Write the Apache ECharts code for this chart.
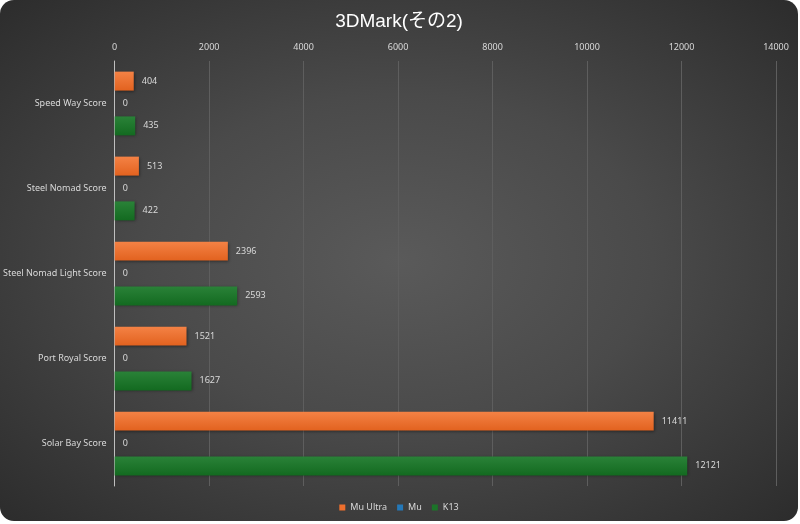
<!DOCTYPE html>
<html>
<head>
<meta charset="utf-8">
<script src="https://cdn.jsdelivr.net/npm/echarts@6/dist/echarts.min.js"></script>
<style>
html,body{margin:0;padding:0;background:#ffffff;}
#card{position:absolute;left:0;top:0;width:798px;height:521px;border-radius:14px;overflow:hidden;
background:radial-gradient(ellipse at 50% 50%, #5a5a5a 0%, #4a4a4a 45%, #2c2c2c 100%);}
#main{width:798px;height:521px;}
</style>
</head>
<body>
<div id="card"><div id="main"></div></div>
<script>
const title = '3DMark(その2)';
const categories = ['Speed Way Score','Steel Nomad Score','Steel Nomad Light Score','Port Royal Score','Solar Bay Score'];
const seriesNames = ['Mu Ultra','Mu','K13'];
const muUltra = [404, 513, 2396, 1521, 11411];
const mu = [0, 0, 0, 0, 0];
const k13 = [435, 422, 2593, 1627, 12121];
const axisMin = 0, axisMax = 14000, axisStep = 2000;

function grad(top, bottom){
  return new echarts.graphic.LinearGradient(0,0,0,1,[{offset:0,color:top},{offset:1,color:bottom}]);
}
const colors = [
  {fill: grad('#f48245','#e2621f'), legend:'#ee6f2d'},
  {fill: grad('#2f86c6','#1c6aa6'), legend:'#2478b8'},
  {fill: grad('#2a8238','#136a20'), legend:'#1c7429'}
];
const datas = [muUltra, mu, k13];

const chart = echarts.init(document.getElementById('main'), null, {renderer:'canvas'});
chart.setOption({
  backgroundColor:'transparent',
  animation:false,
  title:{text:title,left:'center',top:7,textStyle:{color:'#ffffff',fontSize:19,fontWeight:'normal',fontFamily:'Liberation Sans, Noto Sans CJK JP'}},
  legend:{bottom:4,left:'center',itemWidth:6,itemHeight:6,itemGap:10,icon:'rect',
    textStyle:{color:'#d9d9d9',fontSize:9,fontFamily:'Noto Sans'},
    data:seriesNames.map((n,i)=>({name:n,itemStyle:{color:colors[i].legend}}))},
  grid:{left:111,right:22,top:61,bottom:35,containLabel:false},
  xAxis:{type:'value',position:'top',min:axisMin,max:axisMax,interval:axisStep,
    axisLine:{show:false},axisTick:{show:false},
    axisLabel:{color:'#d9d9d9',fontSize:9,margin:9,fontFamily:'Noto Sans',formatter:v=>String(v)},
    splitLine:{lineStyle:{color:'#5e5e5e',width:1}}},
  yAxis:{type:'category',inverse:true,data:categories,
    axisLine:{show:true,lineStyle:{color:'#bfbfbf',width:1}},axisTick:{show:false},
    axisLabel:{color:'#d9d9d9',fontSize:9,margin:8,fontFamily:'Noto Sans'}},
  series:seriesNames.map((n,i)=>({
    name:n,type:'bar',data:datas[i],barGap:'18%',barCategoryGap:'25%',
    itemStyle:{color:colors[i].fill,shadowColor:'rgba(0,0,0,0.45)',shadowBlur:3,shadowOffsetX:1,shadowOffsetY:1},
    label:{show:true,position:'right',distance:8,color:'#d9d9d9',fontSize:9,fontFamily:'Noto Sans'}
  }))
});
</script>
</body>
</html>
